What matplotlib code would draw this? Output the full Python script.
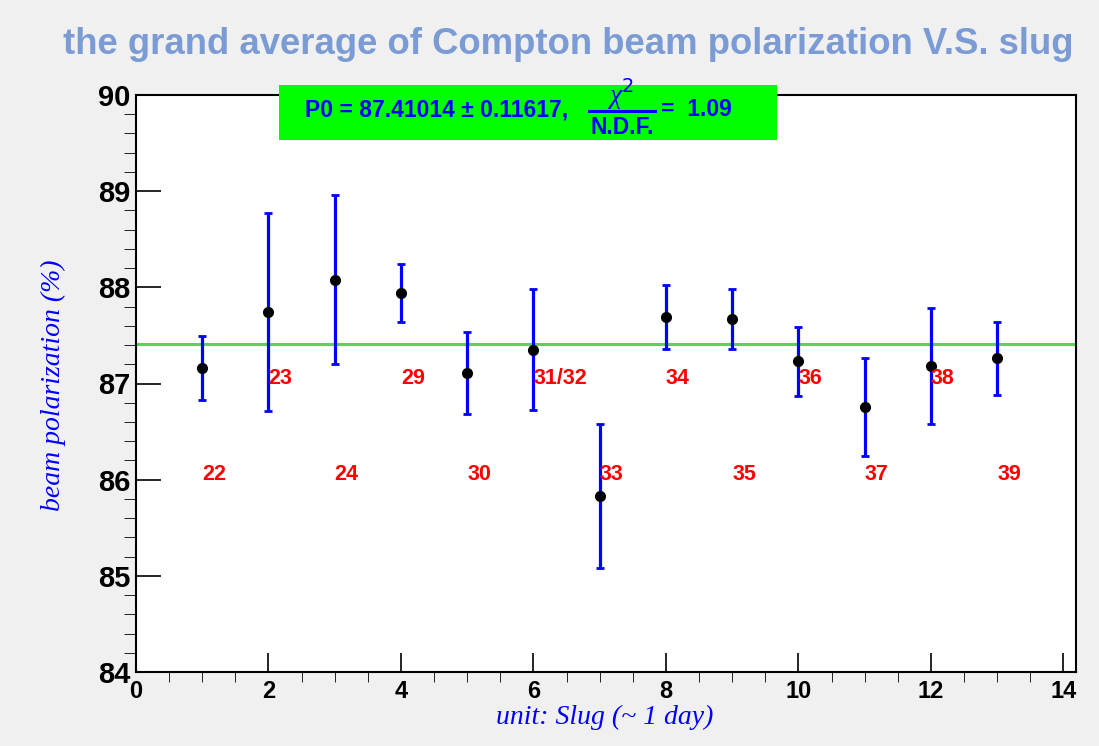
import matplotlib
matplotlib.use("Agg")
import matplotlib.pyplot as plt
from matplotlib.patches import Rectangle
from matplotlib.ticker import MultipleLocator
from matplotlib.lines import Line2D

# slug data: grand average Compton polarization per slug
slug_index = [1, 2, 3, 4, 5, 6, 7, 8, 9, 10, 11, 12, 13]
polarization = [87.16, 87.74, 88.08, 87.94, 87.11, 87.35, 85.83, 87.69, 87.67, 87.23, 86.76, 87.18, 87.26]
pol_errors = [0.335, 1.03, 0.88, 0.30, 0.43, 0.63, 0.75, 0.33, 0.31, 0.36, 0.51, 0.60, 0.38]
slug_labels = ['22', '23', '24', '29', '30', '31/32', '33', '34', '35', '36', '37', '38', '39']

# constant fit result
fit_p0 = 87.41014
fit_err = 0.11617
chi2_ndf = 1.09

W, H = 1099, 746
SANS = 'Liberation Sans'
SERIF = 'Liberation Serif'

def px(x, y):
    return x / W, 1 - y / H

fig = plt.figure(figsize=(W / 100, H / 100), dpi=100, facecolor='#f0f0f0')
ax = fig.add_axes([136 / W, 1 - 672 / H, (1076 - 136) / W, (672 - 95) / H])
ax.set_facecolor('white')

ax.errorbar(slug_index, polarization, yerr=pol_errors, fmt='o', color='black',
            markersize=7, ecolor='#0000ff', elinewidth=2.3, capsize=3, capthick=2, zorder=3)
ax.axhline(fit_p0, color='#5fcf5f', lw=2.2, zorder=2)

for i, (x, lab) in enumerate(zip(slug_index, slug_labels)):
    ly = 86 if i % 2 == 0 else 87
    ax.text(x, ly, lab, color='#ff0000', fontsize=15.5, fontweight='bold', family=SANS,
            ha='left', va='baseline', zorder=4)

ax.set_xlim(0, 14.19)
ax.set_ylim(84, 90)
ax.xaxis.set_major_locator(MultipleLocator(2))
ax.xaxis.set_minor_locator(MultipleLocator(0.5))
ax.yaxis.set_major_locator(MultipleLocator(1))
ax.yaxis.set_minor_locator(MultipleLocator(0.2))
ax.tick_params(direction='in', top=False, right=False, width=1.2)
ax.tick_params(axis='y', which='major', length=18, pad=4)
ax.tick_params(axis='y', which='minor', length=8.5)
ax.tick_params(axis='x', which='major', length=13.5, pad=6)
ax.tick_params(axis='x', which='minor', length=7)
for s in ax.spines.values():
    s.set_linewidth(1.5)

for lbl in ax.get_yticklabels():
    lbl.set_fontfamily(SANS)
    lbl.set_fontweight('bold')
    lbl.set_fontsize(21)
for lbl in ax.get_xticklabels():
    lbl.set_fontfamily(SANS)
    lbl.set_fontweight('bold')
    lbl.set_fontsize(17)

ax.set_xlabel('unit: Slug (~ 1 day)', family=SERIF, style='italic', color='#0000ff', fontsize=20, va='center')
ax.xaxis.set_label_coords((605 - 136) / 940, (672 - 717) / 577)
ax.set_ylabel('beam polarization (%)', family=SERIF, style='italic', color='#0000ff', fontsize=20, va='center')
ax.yaxis.set_label_coords((53 - 136) / 940, (672 - 385) / 577)

# title
fig.text(*px(568, 44), 'the grand average of Compton beam polarization V.S. slug', ha='center', va='center',
         color='#7b9bd5', fontsize=26.3, fontweight='bold', family=SANS)

# fit box
bx0, by0 = px(279, 140)
box = Rectangle((bx0, by0), 498 / W, 55 / H, transform=fig.transFigure, facecolor='#00ff00',
                edgecolor='none', zorder=5)
fig.add_artist(box)
blue = '#0000ff'
fig.text(*px(305, 110), 'P0 = %.5f \u00b1 %.5f,' % (fit_p0, fit_err), ha='left', va='center', color=blue,
         fontsize=16.5, fontweight='bold', family=SANS, zorder=6)
fig.text(*px(621, 94), '\u03c7$^2$', ha='center', va='center', color=blue, fontsize=20,
         family=SERIF, style='italic', zorder=6)
fig.add_artist(Line2D([589 / W, 655 / W], [1 - 111 / H, 1 - 111 / H], transform=fig.transFigure,
                      color=blue, lw=2.2, zorder=6))
fig.text(*px(622, 134), 'N.D.F.', ha='center', va='baseline', color=blue, fontsize=16.5,
         fontweight='bold', family=SANS, zorder=6)
fig.text(*px(661, 110), '=  %.2f' % chi2_ndf, ha='left', va='center', color=blue, fontsize=16.5,
         fontweight='bold', family=SANS, zorder=6)

fig.savefig('out.png', dpi=100, facecolor=fig.get_facecolor())
